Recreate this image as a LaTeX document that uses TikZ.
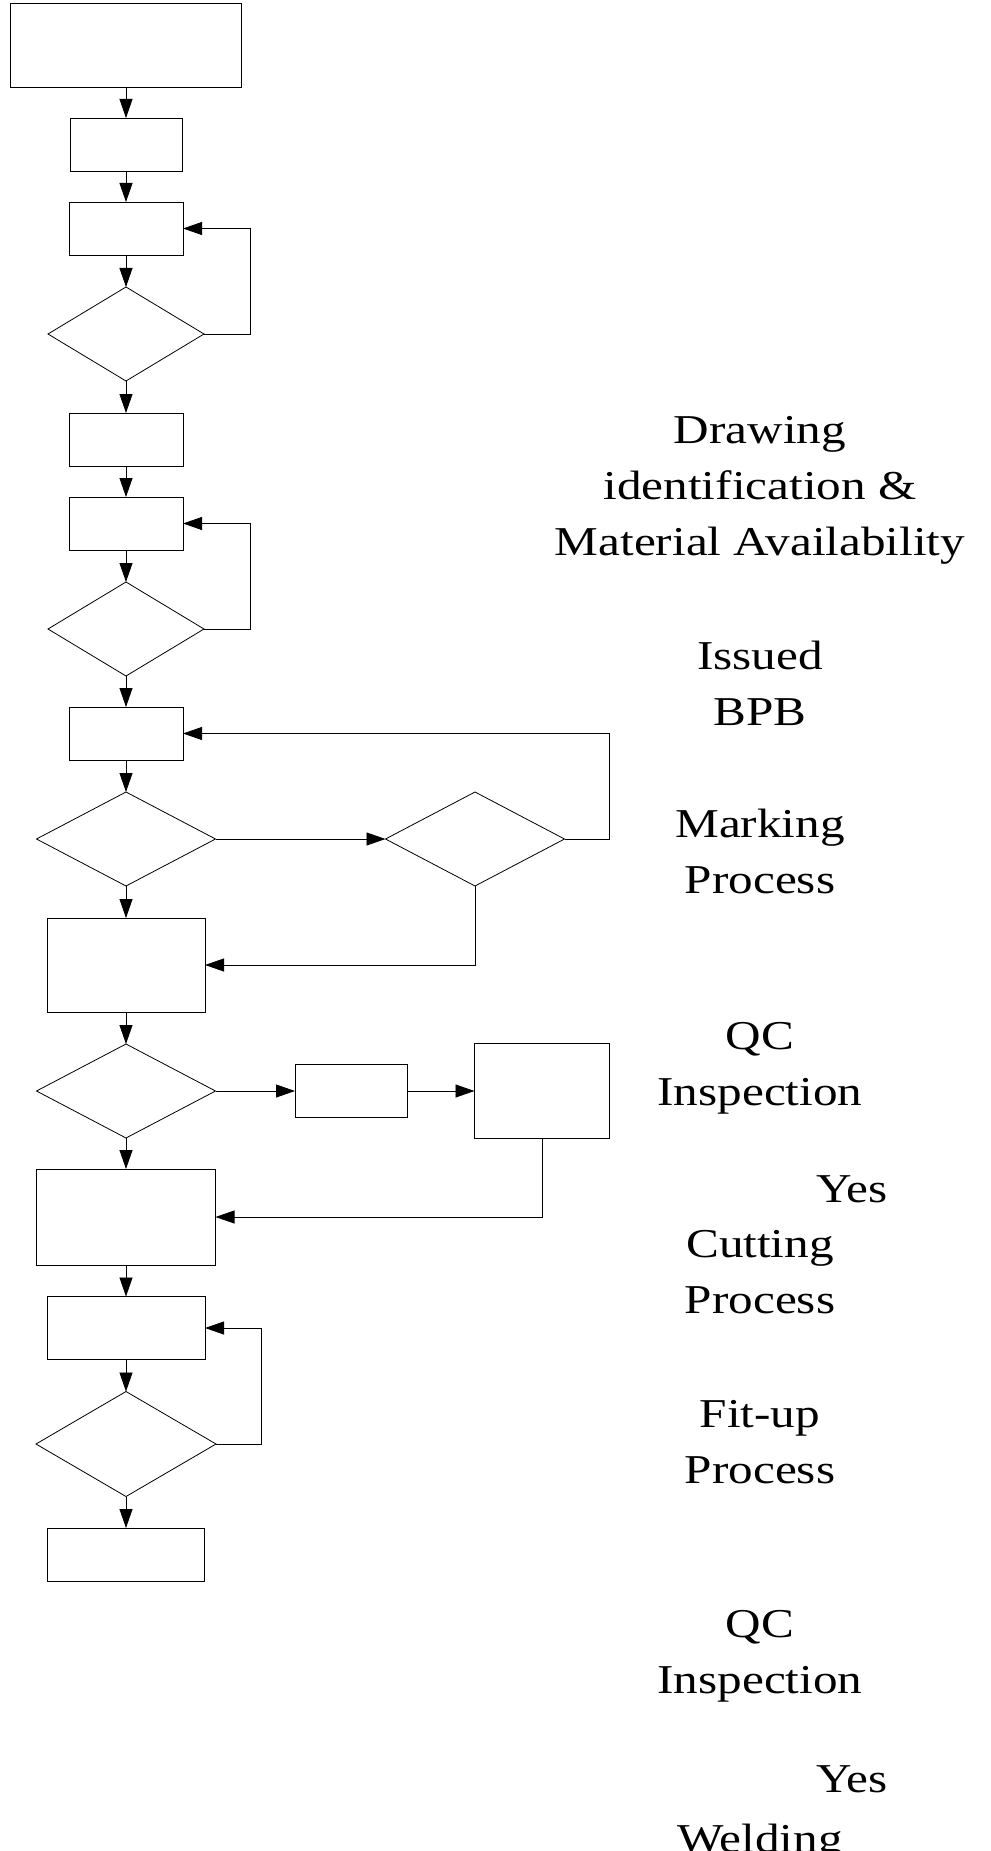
\documentclass[tikz,border=0pt]{standalone}
\usepackage{fontspec}
\setmainfont{Liberation Serif}[FakeStretch=1.2]
\usetikzlibrary{shapes.geometric, arrows.meta}

\begin{document}
\begin{tikzpicture}
[x=1pt, y=-1pt, line width=0.8pt,
 every node/.style={align=center, inner sep=0, outer sep=0},
 nodeStep/.style={draw, minimum width=114pt, minimum height=53pt},
 nodeTest/.style={draw, diamond, minimum width=156pt, minimum height=94pt},
 nodeText/.style={anchor=base, font=\fontsize{41}{56}\selectfont},
 lineArrow/.style={-{Triangle[length=19pt, width=13pt]}}
]
\useasboundingbox (0, 0) rectangle (990, 1851);
\node[nodeStep, minimum width=231pt, minimum height=84pt] (B1) at (126, 45) {};
\node[nodeStep, minimum width=112pt] (B2) at (126, 144.5) {};
\node[nodeStep]                      (B3) at (126, 228.5) {};
\node[nodeTest]                      (D1) at (126, 334) {};
\node[nodeStep]                      (B4) at (126, 439.5) {};
\node[nodeStep]                      (B5) at (126, 523.5) {};
\node[nodeTest]                      (D2) at (126, 629) {};
\node[nodeStep]                      (B6) at (126, 733.5) {};
\node[nodeTest, minimum width=179pt] (D3) at (126, 839) {};
\node[nodeTest, minimum width=179pt] (D4) at (475, 839) {};
\node[nodeStep, minimum width=158pt, minimum height=94pt] (B7) at (126, 965) {};
\node[nodeTest, minimum width=179pt] (D5) at (126, 1091) {};
\node[nodeStep, minimum width=112pt] (B8) at (351, 1091) {};
\node[nodeStep, minimum width=135pt, minimum height=95pt] (B9) at (542, 1091) {};
\node[nodeStep, minimum width=179pt, minimum height=96pt] (B10) at (126, 1217) {};
\node[nodeStep, minimum width=158pt, minimum height=63pt] (B11) at (126, 1328) {};
\node[nodeTest, minimum width=180pt, minimum height=105pt] (D6) at (126, 1444) {};
\node[nodeStep, minimum width=157pt] (B12) at (126, 1554.5) {};
\node[nodeText] (T1) at (760, 555) {Drawing\\ identification \&\\ Material Availability};
\node[nodeText] (T2) at (760, 725) {Issued\\ BPB};
\node[nodeText] (T3) at (760, 893) {Marking\\ Process};
\node[nodeText] (T4) at (760, 1105) {QC\\ Inspection};
\node[nodeText] (T5) at (852, 1202) {Yes};
\node[nodeText] (T6) at (760, 1313) {Cutting\\ Process};
\node[nodeText] (T7) at (760, 1483) {Fit-up\\ Process};
\node[nodeText] (T8) at (760, 1693) {QC\\ Inspection};
\node[nodeText] (T9) at (852, 1792) {Yes};
\node[nodeText] (T10) at (760, 1852) {Welding};
\foreach \a/\b in {B1/B2, B2/B3, B3/D1, D1/B4, B4/B5, B5/D2, D2/B6, B6/D3,
  D3/B7, B7/D5, D5/B10, B10/B11, B11/D6, D6/B12}
  \draw[lineArrow] (\a.south) -- (\b.north);
\foreach \a/\b in {D3/D4, D5/B8, B8/B9}
  \draw[lineArrow] (\a.east) -- (\b.west);
\draw[lineArrow] (D1.east) -- ++(46, 0) |- (B3.east);
\draw[lineArrow] (D2.east) -- ++(46, 0) |- (B5.east);
\draw[lineArrow] (D4.east) -- ++(45, 0) |- (B6.east);
\draw[lineArrow] (D4.south) |- (B7.east);
\draw[lineArrow] (B9.south) |- (B10.east);
\draw[lineArrow] (D6.east) -- ++(45, 0) |- (B11.east);
\end{tikzpicture}
\end{document}
